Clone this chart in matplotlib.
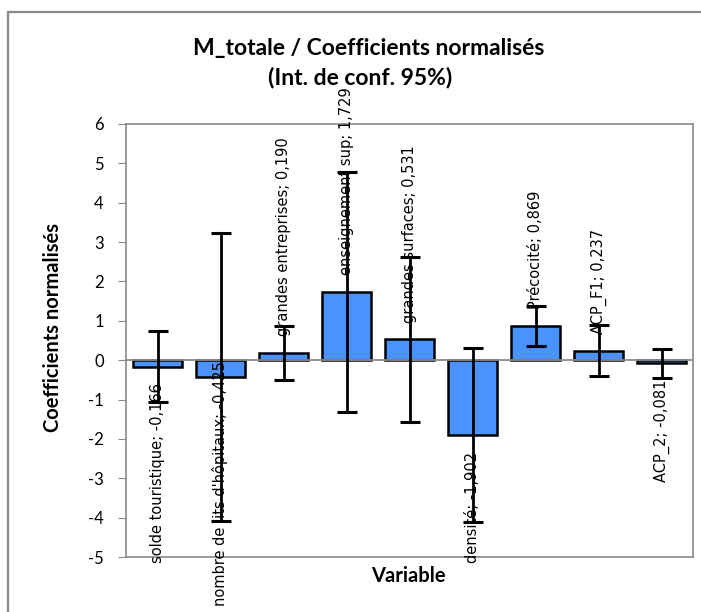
import matplotlib
matplotlib.use("Agg")
import matplotlib.pyplot as plt
from matplotlib.patches import Rectangle
from matplotlib.transforms import offset_copy

variables = ["solde touristique", "nombre de lits d'hôpitaux", "grandes entreprises",
             "enseignement sup", "grandes surfaces", "densité", "Précocité",
             "ACP_F1", "ACP_2"]
coefs = [-0.166, -0.425, 0.190, 1.729, 0.531, -1.902, 0.869, 0.237, -0.081]
ci_half = [0.90, 3.65, 0.69, 3.05, 2.10, 2.20, 0.50, 0.65, 0.37]
yticks = list(range(-5, 7))

W, H = 701, 612
fig = plt.figure(figsize=(W / 100, H / 100), dpi=100)
plt.rcParams['font.family'] = ['Lato', 'DejaVu Sans']

# outer chart frame
fig.patches.append(Rectangle((8 / W, -0.1), 1.2, (H - 12) / H + 0.1,
                             transform=fig.transFigure, fill=False,
                             edgecolor='#8a8a8a', lw=1.6))

ax = fig.add_axes([126 / W, 1 - 557 / H, (693 - 126) / W, (557 - 124) / H])
x = list(range(len(variables)))
ax.bar(x, coefs, width=0.78, color='#4a92fc', edgecolor='black', lw=1.8, zorder=2)
ax.axhline(0, color='#8a8a8a', lw=1.3, zorder=2.5)
ax.errorbar(x, coefs, yerr=ci_half, fmt='none', ecolor='black', elinewidth=2,
            capsize=7, capthick=2.2, zorder=3)

ax.set_xlim(-0.5, len(variables) - 0.5)
ax.set_ylim(-5, 6)
ax.set_yticks(yticks)
ax.set_yticklabels([str(t) for t in yticks], fontsize=12)
ax.set_xticks([])
ax.tick_params(axis='y', direction='out', length=6, color='#8a8a8a', pad=10)
for s in ax.spines.values():
    s.set_color('#8a8a8a')
    s.set_linewidth(1.2)

# data labels "name; value", rotated
labels = []
for xi, name, v in zip(x, variables, coefs):
    txt = "%s; %s" % (name, ("%.3f" % v).replace('.', ','))
    off = 12 if v >= 0 else -12
    tr = offset_copy(ax.transData, fig=fig, x=0, y=off, units='points')
    t = ax.text(xi, v, txt, rotation=90, transform=tr, ha='center',
                va='bottom' if v >= 0 else 'top', fontsize=10.5,
                family='DejaVu Sans', color='black', zorder=4, clip_on=False)
    labels.append((t, xi, v))

# keep labels inside the figure (as Excel does)
fig.canvas.draw()
r = fig.canvas.get_renderer()
for t, xi, v in labels:
    bb = t.get_window_extent(r)
    if bb.y0 < 6:
        shift = (6 - bb.y0) * 72 / fig.dpi
        tr = offset_copy(ax.transData, fig=fig, x=0, y=-12 + shift, units='points')
        t.set_transform(tr)

fig.text(369 / W, 1 - 48 / H, "M_totale / Coefficients normalisés", ha='center',
         va='center', fontsize=16.5, fontweight='bold')
fig.text(360 / W, 1 - 77 / H, "(Int. de conf. 95%)", ha='center', va='center',
         fontsize=16.5, fontweight='bold')
fig.text(53 / W, 1 - 328 / H, "Coefficients normalisés", rotation=90, ha='center',
         va='center', fontsize=14.5, fontweight='bold')
fig.text(408 / W, 1 - 576 / H, "Variable", ha='center', va='center',
         fontsize=14.5, fontweight='bold')

fig.savefig("out.png", dpi=100)
